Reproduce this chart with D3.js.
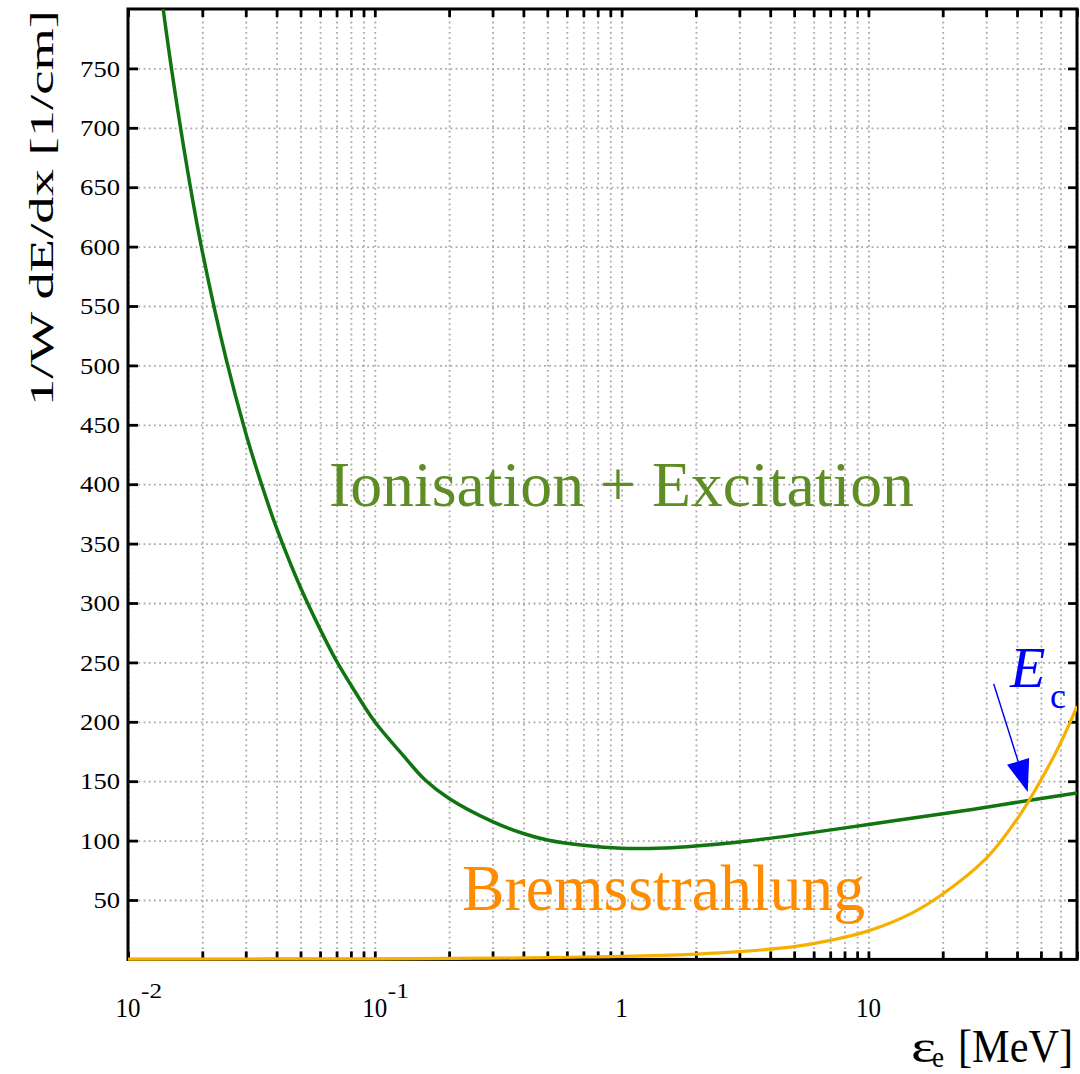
<!DOCTYPE html>
<html>
<head>
<meta charset="utf-8">
<script src="https://cdn.jsdelivr.net/npm/d3@7"></script>
<style>
  body { margin: 0; background: #fff; }
  svg text { font-family: "Liberation Serif", "Times New Roman", serif; }
</style>
</head>
<body>
<script>
// ionisation + excitation loss (green)
var ionEnergy = [0.0135, 0.015, 0.0175, 0.02, 0.025, 0.03, 0.035, 0.04, 0.05, 0.06, 0.07, 0.08,
                 0.1, 0.13, 0.16, 0.2, 0.3, 0.4, 0.5, 0.7, 1, 1.5, 2, 3, 5, 10, 20, 30, 45, 70];
var ionLoss = [819, 750, 662, 596, 505, 443, 398, 363, 313, 278, 251, 231,
               200, 172, 151, 135.5, 116, 106, 100.5, 96, 93.5, 93.8, 95.4, 98.8, 104.6, 113.6, 122.6, 128, 134, 140];

// bremsstrahlung loss (orange)
var bremEnergy = [0.01, 0.1, 0.3, 0.5, 0.7, 1, 2, 3, 5, 7, 10, 15, 20, 30, 40, 50, 60, 70];
var bremLoss = [0.3, 0.5, 1, 1.5, 2, 2.5, 4.5, 6.5, 10.7, 16, 24, 39, 55, 85, 118, 151, 182, 213];

var yTickValues = [50, 100, 150, 200, 250, 300, 350, 400, 450, 500, 550, 600, 650, 700, 750];
var xTickValues = [0.01, 0.1, 1, 10];
var xTickBase = ["10", "10", "1", "10"];
var xTickExp = ["-2", "-1", "", ""];

// critical energy marker
var ecEnergy = 44.2;
var ecLoss = 141;

var W = 1080, H = 1074;
var plotL = 128, plotR = 1077, plotT = 9, plotB = 959.4;

var svg = d3.select("body").append("svg")
    .attr("width", W)
    .attr("height", H);

var x = d3.scaleLog().domain([0.01, 70]).range([plotL, plotR]);
var y = d3.scaleLinear().domain([0, 800]).range([plotB, plotT]);

// all 1..9 multiples inside the domain
var xMinor = [];
for (var e = -2; e <= 1; e++) {
    for (var k = 1; k <= 9; k++) {
        var v = k * Math.pow(10, e);
        if (v >= 0.01 && v <= 70) xMinor.push(+v.toPrecision(3));
    }
}

// grid
svg.append("g")
    .attr("class", "grid")
    .attr("transform", "translate(0," + plotB + ")")
    .call(d3.axisBottom(x).tickValues(xMinor).tickSize(-(plotB - plotT)).tickFormat(""));
svg.append("g")
    .attr("class", "grid")
    .attr("transform", "translate(" + plotL + ",0)")
    .call(d3.axisLeft(y).tickValues(yTickValues).tickSize(-(plotR - plotL)).tickFormat(""));
svg.selectAll(".grid .domain").remove();
svg.selectAll(".grid line")
    .attr("stroke", "#a9a9a9")
    .attr("stroke-width", 1.8)
    .attr("stroke-dasharray", "1.8,3.4");

// ticks, pointing inward on all four sides
svg.append("g")
    .attr("class", "tk")
    .attr("transform", "translate(0," + plotB + ")")
    .call(d3.axisBottom(x).tickValues(xMinor).tickSizeInner(-8).tickSizeOuter(0).tickFormat(""));
svg.append("g")
    .attr("class", "tk")
    .attr("transform", "translate(0," + plotT + ")")
    .call(d3.axisTop(x).tickValues(xMinor).tickSizeInner(-8).tickSizeOuter(0).tickFormat(""));
svg.append("g")
    .attr("class", "tk")
    .attr("transform", "translate(" + plotR + ",0)")
    .call(d3.axisRight(y).tickValues(yTickValues).tickSizeInner(-9).tickSizeOuter(0).tickFormat(""));
var yAxis = svg.append("g")
    .attr("class", "tk")
    .attr("transform", "translate(" + plotL + ",0)")
    .call(d3.axisLeft(y).tickValues(yTickValues).tickSizeInner(-10).tickSizeOuter(0).tickPadding(8));
svg.selectAll(".tk .domain").remove();
svg.selectAll(".tk line").attr("stroke", "#000").attr("stroke-width", 2.8);

yAxis.selectAll("text")
    .attr("font-size", 24)
    .attr("fill", "#000")
    .attr("textLength", function (d) { return String(d).length * 13.3; })
    .attr("lengthAdjust", "spacingAndGlyphs");

// frame
svg.append("rect")
    .attr("x", plotL)
    .attr("y", plotT)
    .attr("width", plotR - plotL)
    .attr("height", plotB - plotT)
    .attr("fill", "none")
    .attr("stroke", "#000")
    .attr("stroke-width", 3);

// curves
svg.append("clipPath").attr("id", "clip")
    .append("rect")
    .attr("x", plotL)
    .attr("y", plotT)
    .attr("width", plotR - plotL)
    .attr("height", plotB - plotT + 4);

var line = d3.line()
    .x(function (d) { return x(d[0]); })
    .y(function (d) { return y(d[1]); })
    .curve(d3.curveCatmullRom.alpha(0.5));

svg.append("path")
    .datum(d3.zip(ionEnergy, ionLoss))
    .attr("clip-path", "url(#clip)")
    .attr("fill", "none")
    .attr("stroke", "#107510")
    .attr("stroke-width", 3.5)
    .attr("d", line);

svg.append("path")
    .datum(d3.zip(bremEnergy, bremLoss))
    .attr("clip-path", "url(#clip)")
    .attr("fill", "none")
    .attr("stroke", "#f5b000")
    .attr("stroke-width", 3.2)
    .attr("d", line);

// x tick labels with exponents
var xl = svg.append("g");
xTickValues.forEach(function (v, i) {
    xl.append("text")
        .attr("x", x(v))
        .attr("y", 1017)
        .attr("font-size", 27)
        .attr("text-anchor", "middle")
        .attr("textLength", xTickBase[i].length * 12.5)
        .attr("lengthAdjust", "spacingAndGlyphs")
        .text(xTickBase[i]);
    if (xTickExp[i]) {
        xl.append("text")
            .attr("x", x(v) + 13)
            .attr("y", 998)
            .attr("font-size", 22)
            .attr("textLength", 21)
            .attr("lengthAdjust", "spacingAndGlyphs")
            .text(xTickExp[i]);
    }
});

// axis titles
svg.append("text")
    .attr("transform", "translate(53,10) rotate(-90)")
    .attr("text-anchor", "end")
    .attr("font-size", 34)
    .attr("textLength", 396)
    .attr("lengthAdjust", "spacingAndGlyphs")
    .text("1/W dE/dx [1/cm]");

svg.append("text")
    .attr("x", 911)
    .attr("y", 1062)
    .attr("font-size", 47)
    .attr("textLength", 25)
    .attr("lengthAdjust", "spacingAndGlyphs")
    .text("ε");
svg.append("text")
    .attr("x", 932)
    .attr("y", 1067)
    .attr("font-size", 30)
    .attr("textLength", 12)
    .attr("lengthAdjust", "spacingAndGlyphs")
    .text("e");
svg.append("text")
    .attr("x", 958)
    .attr("y", 1062)
    .attr("font-size", 47)
    .attr("textLength", 115)
    .attr("lengthAdjust", "spacingAndGlyphs")
    .text("[MeV]");

// in-plot labels
svg.append("text")
    .attr("x", 329)
    .attr("y", 506)
    .attr("font-size", 64)
    .attr("fill", "#5e8c25")
    .attr("textLength", 585)
    .attr("lengthAdjust", "spacingAndGlyphs")
    .text("Ionisation + Excitation");

svg.append("text")
    .attr("x", 462)
    .attr("y", 910)
    .attr("font-size", 66)
    .attr("fill", "#ff8c00")
    .attr("textLength", 403)
    .attr("lengthAdjust", "spacingAndGlyphs")
    .text("Bremsstrahlung");

// E_c annotation and arrow
svg.append("text")
    .attr("x", 1010)
    .attr("y", 687)
    .attr("font-size", 58)
    .attr("font-style", "italic")
    .attr("fill", "#0000ff")
    .text("E");
svg.append("text")
    .attr("x", 1050)
    .attr("y", 708)
    .attr("font-size", 36)
    .attr("fill", "#0000ff")
    .text("c");

var tipX = x(ecEnergy), tipY = y(ecLoss);
var dx = -34, dy = -108;
var len = Math.sqrt(dx * dx + dy * dy);
var ux = dx / len, uy = dy / len;
var headLen = 32, headHalf = 11.6;
var bx = tipX + ux * headLen, by = tipY + uy * headLen;

svg.append("line")
    .attr("x1", tipX + dx)
    .attr("y1", tipY + dy)
    .attr("x2", bx)
    .attr("y2", by)
    .attr("stroke", "#0000ff")
    .attr("stroke-width", 1.5);

svg.append("path")
    .attr("d", "M" + tipX + "," + tipY +
        "L" + (bx - uy * headHalf) + "," + (by + ux * headHalf) +
        "L" + (bx + uy * headHalf) + "," + (by - ux * headHalf) + "Z")
    .attr("fill", "#0000ff");
</script>
</body>
</html>
